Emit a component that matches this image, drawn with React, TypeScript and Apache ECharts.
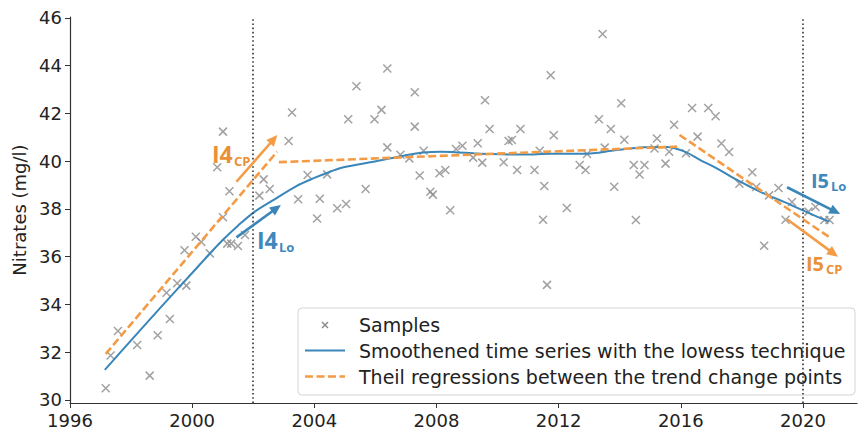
import React, { useEffect, useRef } from "react";
import * as echarts from "echarts";

// ---- Data ----
const sampleYears: number[] = [
  1997.17, 1997.33, 1997.57, 1998.2, 1998.61, 1998.87, 1999.16, 1999.27, 1999.51, 1999.75,
  1999.81, 2000.12, 2000.3, 2000.58, 2000.82, 2001.01, 2001.01, 2001.15, 2001.22, 2001.28,
  2001.5, 2001.73, 2002.2, 2002.34, 2002.54, 2003.16, 2003.27, 2003.47, 2003.78, 2004.09,
  2004.18, 2004.42, 2004.75, 2005.04, 2005.11, 2005.38, 2005.68, 2005.97, 2006.2, 2006.39,
  2006.39, 2006.82, 2007.11, 2007.29, 2007.29, 2007.45, 2007.58, 2007.8, 2007.88, 2008.1,
  2008.29, 2008.45, 2008.64, 2008.85, 2009.2, 2009.35, 2009.5, 2009.59, 2009.74, 2010.2,
  2010.36, 2010.47, 2010.64, 2010.75, 2011.21, 2011.38, 2011.49, 2011.53, 2011.62, 2011.74,
  2011.84, 2012.27, 2012.69, 2012.88, 2012.93, 2013.32, 2013.44, 2013.51, 2013.71, 2013.82,
  2014.05, 2014.15, 2014.46, 2014.53, 2014.65, 2014.81, 2015.14, 2015.22, 2015.5, 2015.62,
  2015.78, 2016.17, 2016.37, 2016.55, 2016.9, 2017.14, 2017.33, 2017.58, 2017.92, 2018.34,
  2018.47, 2018.73, 2018.89, 2019.2, 2019.43, 2019.64, 2020.18, 2020.41, 2020.7, 2020.87,
];
const sampleValues: number[] = [
  30.49, 31.86, 32.89, 32.3, 31.02, 32.71, 34.49, 33.39, 34.89, 36.27,
  34.79, 36.84, 36.62, 36.14, 39.75, 41.24, 37.65, 36.55, 38.74, 36.55,
  36.45, 36.91, 38.56, 39.24, 38.84, 40.85, 42.04, 38.41, 39.42, 37.6,
  38.43, 39.45, 38.03, 38.21, 41.76, 43.14, 38.84, 41.76, 42.15, 43.88,
  40.58, 40.27, 40.12, 42.89, 41.45, 39.4, 40.44, 38.72, 38.6, 39.5,
  39.63, 37.95, 40.51, 40.65, 40.15, 40.75, 39.94, 42.55, 41.35, 39.96,
  40.85, 40.89, 39.63, 41.35, 39.63, 40.44, 37.55, 38.96, 34.82, 43.6,
  41.09, 38.04, 39.84, 39.63, 40.3, 41.76, 45.33, 40.57, 41.35, 38.93,
  42.43, 40.9, 39.84, 37.54, 39.44, 39.84, 40.53, 40.95, 39.9, 40.4,
  41.53, 40.33, 42.23, 41.03, 42.23, 41.88, 40.74, 40.39, 39.06, 39.54,
  38.92, 36.46, 38.57, 38.88, 37.55, 38.29, 37.89, 38.08, 37.54, 37.54,
];

const lowessYears: number[] = [
  1997.14, 1998.0, 1999.0, 2000.0, 2000.5, 2001.0, 2001.5, 2002.02, 2002.67, 2003.4,
  2004.0, 2004.5, 2004.96, 2005.94, 2006.49, 2007.04, 2007.58, 2008.13, 2008.67, 2009.22,
  2009.76, 2010.85, 2011.73, 2012.82, 2013.91, 2014.78, 2015.55, 2016.09, 2016.64, 2017.18,
  2017.73, 2018.27, 2018.82, 2019.36, 2019.91, 2020.46, 2020.87,
];
const lowessValues: number[] = [
  31.26, 32.5, 33.92, 35.32, 36.02, 36.7, 37.3, 37.86, 38.38, 38.95,
  39.3, 39.55, 39.75, 39.98, 40.12, 40.26, 40.37, 40.4, 40.37, 40.33,
  40.3, 40.28, 40.31, 40.31, 40.47, 40.58, 40.6, 40.42, 40.05, 39.7,
  39.29, 38.93, 38.59, 38.31, 37.99, 37.68, 37.47,
];

// Theil regression segments (start/end of each segment)
const theilYears: (number | null)[] = [1997.17, 2002.78, null, 2002.84, 2015.88, null, 2015.96, 2020.84];
const theilValues: (number | null)[] = [31.93, 40.4, null, 39.96, 40.61, null, 41.1, 36.84];

const changePointYears: number[] = [2002, 2020];

const xTicks: number[] = [1996, 2000, 2004, 2008, 2012, 2016, 2020];
const yTicks: number[] = [30, 32, 34, 36, 38, 40, 42, 44, 46];

const legendLabels: string[] = [
  "Samples",
  "Smoothened time series with the lowess technique",
  "Theil regressions between the trend change points",
];

// annotation arrows: [x1, y1, x2, y2] in data units
const arrowI4CP: number[] = [2001.45, 39.14, 2002.67, 40.92];
const arrowI4Lo: number[] = [2001.45, 36.81, 2002.76, 38.03];
const arrowI5Lo: number[] = [2019.48, 38.91, 2021.06, 37.89];
const arrowI5CP: number[] = [2019.48, 37.57, 2021.0, 36.14];

const BLUE = "#3a86b9";
const ORANGE = "#f39b45";
const BLUE_TXT = "#3f88bd";
const ORANGE_TXT = "#ea9137";
const GRAY = "#8a8a8a";
const FONT = "DejaVu Sans";
const AFONT = "Open Sans";

function arrow(a: number[], color: string) {
  return [
    {
      coord: [a[0], a[1]],
      symbol: "none",
      lineStyle: { color, width: 2.6, type: "solid" },
    },
    { coord: [a[2], a[3]], symbol: "triangle", symbolSize: [10, 11] },
  ];
}

export default function App() {
  const ref = useRef<HTMLDivElement>(null);
  useEffect(() => {
    if (!ref.current) return;
    const chart = echarts.init(ref.current, null, { renderer: "svg" });

    const samples = sampleYears.map((x, i) => [x, sampleValues[i]]);
    const lowess = lowessYears.map((x, i) => [x, lowessValues[i]]);
    const theil = theilYears.map((x, i) => (x === null ? [null, null] : [x, theilValues[i]]));

    const ann = (x: number, y: number, main: string, sub: string, color: string, big: number, small: number, subDx: number, subDy: number) => ({
      type: "group",
      x,
      y,
      z: 50,
      children: [
        {
          type: "text",
          x: 0,
          y: 0,
          style: { text: main, fill: color, fontSize: big, fontWeight: "bold", fontFamily: AFONT, verticalAlign: "middle" },
        },
        {
          type: "text",
          x: subDx,
          y: subDy,
          style: { text: sub, fill: color, fontSize: small, fontWeight: "bold", fontFamily: AFONT, verticalAlign: "middle" },
        },
      ],
    });

    const LX = 298, LY = 308, LW = 557, LH = 87;
    const rowY = [325, 350.5, 376.5];

    const option: any = {
      animation: false,
      backgroundColor: "#ffffff",
      grid: { left: 70, right: 2, top: 17, bottom: 27, containLabel: false, outerBoundsMode: "none" },
      xAxis: {
        type: "value",
        min: 1996,
        max: 2021.77,
        interval: 4,
        splitLine: { show: false },
        axisLine: { show: true, lineStyle: { color: "#333", width: 1.2 } },
        axisTick: { show: true, length: 5, lineStyle: { color: "#333" }, customValues: xTicks },
        axisLabel: {
          color: "#222",
          fontFamily: FONT,
          fontSize: 18,
          margin: 8,
          customValues: xTicks,
          formatter: (v: number) => String(v),
        },
      },
      yAxis: {
        type: "value",
        min: 29.874,
        max: 46.04,
        interval: 2,
        name: "Nitrates (mg/l)",
        nameLocation: "middle",
        nameGap: 40,
        nameTextStyle: { color: "#222", fontFamily: FONT, fontSize: 18 },
        splitLine: { show: false },
        axisLine: { show: true, lineStyle: { color: "#333", width: 1.2 } },
        axisTick: { show: true, length: 5, lineStyle: { color: "#333" }, customValues: yTicks },
        axisLabel: {
          color: "#222",
          fontFamily: FONT,
          fontSize: 18,
          margin: 8,
          customValues: yTicks,
          formatter: (v: number) => String(v),
        },
      },
      series: [
        {
          name: legendLabels[0],
          type: "scatter",
          data: samples,
          symbol: "path://M0 0L10 10M10 0L0 10",
          symbolSize: 8,
          itemStyle: { color: "none", borderColor: GRAY, borderWidth: 1.5 },
          z: 2,
          silent: true,
          markLine: {
            silent: true,
            symbol: ["none", "none"],
            label: { show: false },
            emphasis: { disabled: true },
            lineStyle: { color: "#333", width: 1.6, type: [1.6, 2.6] },
            data: [
              ...changePointYears.map((x) => ({ xAxis: x })),
              arrow(arrowI4CP, ORANGE),
              arrow(arrowI4Lo, BLUE),
              arrow(arrowI5Lo, BLUE),
              arrow(arrowI5CP, ORANGE),
            ],
          },
        },
        {
          name: legendLabels[1],
          type: "line",
          data: lowess,
          smooth: 0.35,
          showSymbol: false,
          symbol: "none",
          lineStyle: { color: BLUE, width: 2 },
          z: 3,
          silent: true,
        },
        {
          name: legendLabels[2],
          type: "line",
          data: theil,
          connectNulls: false,
          showSymbol: false,
          symbol: "none",
          lineStyle: { color: ORANGE, width: 2.6, type: [8, 3.5] },
          z: 4,
          silent: true,
        },
      ],
      graphic: [
        ann(212, 154, "I4", "CP", ORANGE_TXT, 23, 13, 22, 7),
        ann(257, 240, "I4", "Lo", BLUE_TXT, 23, 13, 22, 7),
        ann(811, 180, "I5", "Lo", BLUE_TXT, 20, 13, 20, 6),
        ann(806, 263, "I5", "CP", ORANGE_TXT, 20, 13, 20, 6),
        {
          type: "group",
          z: 100,
          children: [
            {
              type: "rect",
              shape: { x: LX, y: LY, width: LW, height: LH, r: 4 },
              style: { fill: "rgba(255,255,255,0.8)", stroke: "#d4d4d4", lineWidth: 1 },
            },
            {
              type: "line",
              shape: { x1: 322, y1: rowY[0] - 3, x2: 328, y2: rowY[0] + 3 },
              style: { stroke: GRAY, lineWidth: 1.4 },
            },
            {
              type: "line",
              shape: { x1: 328, y1: rowY[0] - 3, x2: 322, y2: rowY[0] + 3 },
              style: { stroke: GRAY, lineWidth: 1.4 },
            },
            {
              type: "line",
              shape: { x1: 305, y1: rowY[1], x2: 345, y2: rowY[1] },
              style: { stroke: BLUE, lineWidth: 2 },
            },
            {
              type: "line",
              shape: { x1: 305, y1: rowY[2], x2: 345, y2: rowY[2] },
              style: { stroke: ORANGE, lineWidth: 2.6, lineDash: [8, 3.5] },
            },
            ...legendLabels.map((t, i) => ({
              type: "text",
              x: 359,
              y: rowY[i],
              style: { text: t, fill: "#222", fontSize: 19, fontFamily: FONT, verticalAlign: "middle" },
            })),
          ],
        },
      ],
    };

    chart.setOption(option);
    return () => chart.dispose();
  }, []);

  return <div ref={ref} style={{ width: 859, height: 430, position: "absolute", left: 0, top: 0 }} />;
}
